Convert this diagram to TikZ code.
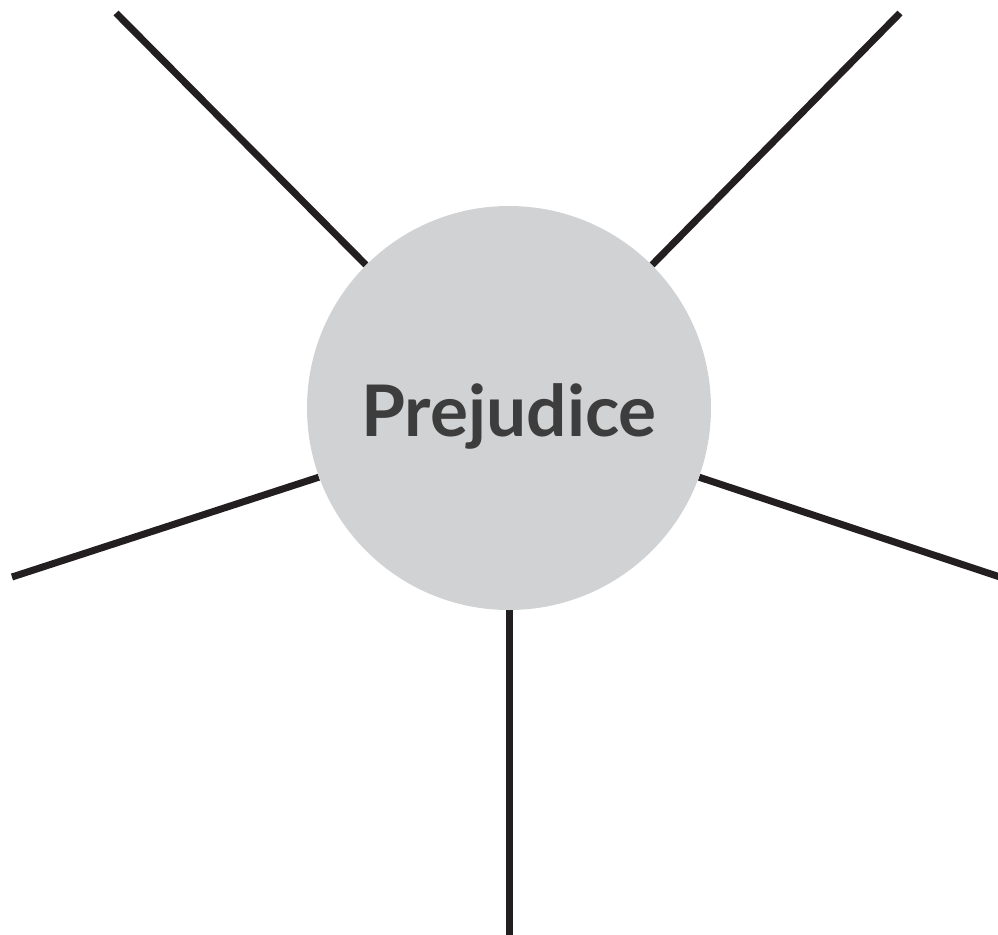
\documentclass[tikz,border=0pt]{standalone}
\usepackage{fontspec}
\setmainfont{Lato}
\usepackage{tikz}
\usetikzlibrary{positioning,backgrounds}
\definecolor{hubgray}{HTML}{D1D2D4}
\definecolor{spokeblack}{HTML}{231F20}
\definecolor{textgray}{HTML}{3D3D3D}

\begin{document}
\begin{tikzpicture}[
  spoke/.style={line width=0.14cm,spokeblack},
  hub/.style={circle,fill=hubgray,minimum size=8.08cm,inner sep=0pt,
    font=\fontsize{40.5}{46}\selectfont\bfseries,text=textgray}]
\useasboundingbox (0,0) rectangle (19.96,-18.7);
% Spoke ends
\coordinate (topleft) at (2.32,-0.26);
\coordinate (topright) at (18.0,-0.26);
\coordinate (left) at (0.24,-11.54);
\coordinate (right) at (20.0,-11.54);
\coordinate (bottom) at (10.18,-18.75);
% Centre
\node[hub] (prej) at (10.18,-8.16) {\raisebox{-0.16cm}[\height][\depth]{Prejudice}};
% Spokes
\begin{pgfonlayer}{background}
  \draw[spoke] (topleft) -- (prej.135);
  \draw[spoke] (topright) -- (prej.45);
  \draw[spoke] (left) -- (prej.200);
  \draw[spoke] (right) -- (prej.-20);
  \draw[spoke] (bottom) -- (prej.south);
\end{pgfonlayer}
\end{tikzpicture}
\end{document}
